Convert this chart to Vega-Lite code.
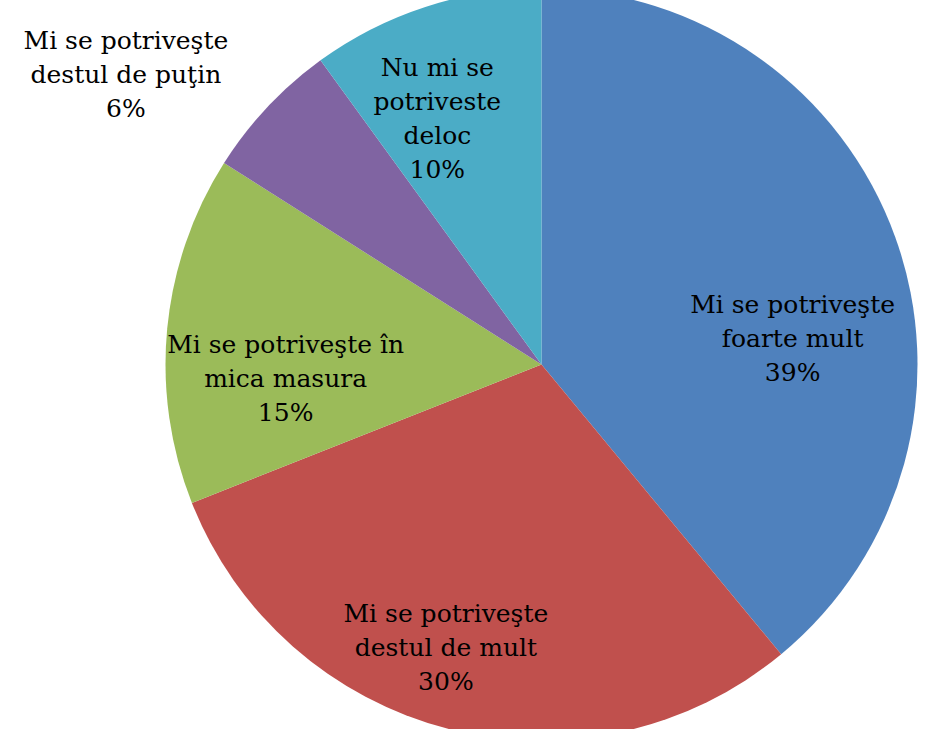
{
  "$schema": "https://vega.github.io/schema/vega-lite/v6.json",
  "width": 795,
  "height": 729,
  "autosize": "none",
  "padding": {"left": 144, "top": 0, "right": 0, "bottom": 0},
  "background": "white",
  "view": {"stroke": null},
  "data": {
    "values": [
      {"cat": "foarte mult", "value": 39, "order": 1, "label": "Mi se potriveşte\nfoarte mult\n39%"},
      {"cat": "destul de mult", "value": 30, "order": 2, "label": "Mi se potriveşte\ndestul de mult\n30%"},
      {"cat": "in mica masura", "value": 15, "order": 3, "label": "Mi se potriveşte în\nmica masura\n15%"},
      {"cat": "destul de putin", "value": 6, "order": 4, "label": "Mi se potriveşte\ndestul de puţin\n6%"},
      {"cat": "deloc", "value": 10, "order": 5, "label": "Nu mi se\npotriveste\ndeloc\n10%"}
    ]
  },
  "encoding": {
    "theta": {"field": "value", "type": "quantitative", "stack": true},
    "order": {"field": "order", "type": "quantitative"}
  },
  "layer": [
    {
      "mark": {"type": "arc", "outerRadius": 376},
      "encoding": {
        "color": {
          "field": "cat",
          "type": "nominal",
          "scale": {
            "domain": ["foarte mult", "destul de mult", "in mica masura", "destul de putin", "deloc"],
            "range": ["#4F81BD", "#C0504D", "#9BBB59", "#8064A2", "#4BACC6"]
          },
          "legend": null
        }
      }
    },
    {
      "mark": {
        "type": "text",
        "font": "DejaVu Serif",
        "fontSize": 25,
        "lineBreak": "\n",
        "lineHeight": 34,
        "align": "center",
        "baseline": "middle",
        "color": "#000000",
        "radius": {"expr": "datum.cat=='foarte mult'?252:datum.cat=='destul de mult'?296:datum.cat=='in mica masura'?256:datum.cat=='destul de putin'?507:266"},
        "dx": {"expr": "datum.cat=='foarte mult'?14:datum.cat=='destul de mult'?-22:datum.cat=='in mica masura'?-1:datum.cat=='destul de putin'?-46:-22"},
        "dy": {"expr": "datum.cat=='foarte mult'?26:datum.cat=='destul de mult'?-37:datum.cat=='in mica masura'?5:datum.cat=='destul de putin'?24:-44"}
      },
      "encoding": {
        "text": {"field": "label", "type": "nominal"}
      }
    }
  ]
}
